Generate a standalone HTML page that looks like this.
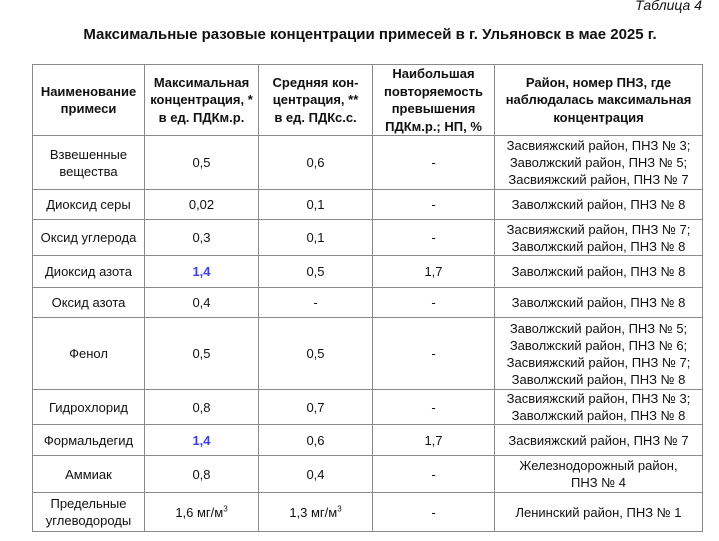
<!DOCTYPE html>
<html><head><meta charset="utf-8"><style>
body{margin:0;width:719px;height:541px;background:#fff;font-family:"Liberation Sans",Arial,sans-serif;color:#111;position:relative;overflow:hidden}
.cap{position:absolute;right:17px;top:-3px;font-style:italic;font-size:14px}
.title{position:absolute;left:0;width:740px;top:26px;text-align:center;font-weight:bold;font-size:15px}
table{position:absolute;left:32px;top:64px;border-collapse:collapse;table-layout:fixed;font-size:13px;line-height:17px}
td{border:1.5px solid #8a8a8a;text-align:center;vertical-align:middle;padding:0 2px;overflow:hidden}
th{border:1.5px solid #8a8a8a;font-weight:bold;font-size:13px;line-height:17.5px;padding:0 2px}
.b{color:#3d3df0;font-weight:bold}
sup{font-size:8px;line-height:0}
</style></head><body>
<div class="cap">Таблица 4</div>
<div class="title">Максимальные разовые концентрации примесей в г. Ульяновск в мае 2025 г.</div>
<table>
<colgroup><col style="width:112px"><col style="width:114px"><col style="width:114px"><col style="width:122px"><col style="width:208px"></colgroup>
<tr style="height:71px"><th>Наименование<br>примеси</th><th>Максимальная<br>концентрация, *<br>в ед. ПДКм.р.</th><th>Средняя кон-<br>центрация, **<br>в ед. ПДКс.с.</th><th>Наибольшая<br>повторяемость<br>превышения<br>ПДКм.р.; НП, %</th><th>Район, номер ПНЗ, где<br>наблюдалась максимальная<br>концентрация</th></tr>
<tr style="height:54px"><td>Взвешенные<br>вещества</td><td>0,5</td><td>0,6</td><td>-</td><td>Засвияжский район, ПНЗ № 3;<br>Заволжский район, ПНЗ № 5;<br>Засвияжский район, ПНЗ № 7</td></tr>
<tr style="height:30px"><td>Диоксид серы</td><td>0,02</td><td>0,1</td><td>-</td><td>Заволжский район, ПНЗ № 8</td></tr>
<tr style="height:36px"><td>Оксид углерода</td><td>0,3</td><td>0,1</td><td>-</td><td>Засвияжский район, ПНЗ № 7;<br>Заволжский район, ПНЗ № 8</td></tr>
<tr style="height:32px"><td>Диоксид азота</td><td class="b">1,4</td><td>0,5</td><td>1,7</td><td>Заволжский район, ПНЗ № 8</td></tr>
<tr style="height:30px"><td>Оксид азота</td><td>0,4</td><td>-</td><td>-</td><td>Заволжский район, ПНЗ № 8</td></tr>
<tr style="height:72px"><td>Фенол</td><td>0,5</td><td>0,5</td><td>-</td><td>Заволжский район, ПНЗ № 5;<br>Заволжский район, ПНЗ № 6;<br>Засвияжский район, ПНЗ № 7;<br>Заволжский район, ПНЗ № 8</td></tr>
<tr style="height:35px"><td>Гидрохлорид</td><td>0,8</td><td>0,7</td><td>-</td><td>Засвияжский район, ПНЗ № 3;<br>Заволжский район, ПНЗ № 8</td></tr>
<tr style="height:31px"><td>Формальдегид</td><td class="b">1,4</td><td>0,6</td><td>1,7</td><td>Засвияжский район, ПНЗ № 7</td></tr>
<tr style="height:37px"><td>Аммиак</td><td>0,8</td><td>0,4</td><td>-</td><td>Железнодорожный район,<br>ПНЗ № 4</td></tr>
<tr style="height:39px"><td>Предельные<br>углеводороды</td><td>1,6 мг/м<sup>3</sup></td><td>1,3 мг/м<sup>3</sup></td><td>-</td><td>Ленинский район, ПНЗ № 1</td></tr>
</table>
</body></html>
